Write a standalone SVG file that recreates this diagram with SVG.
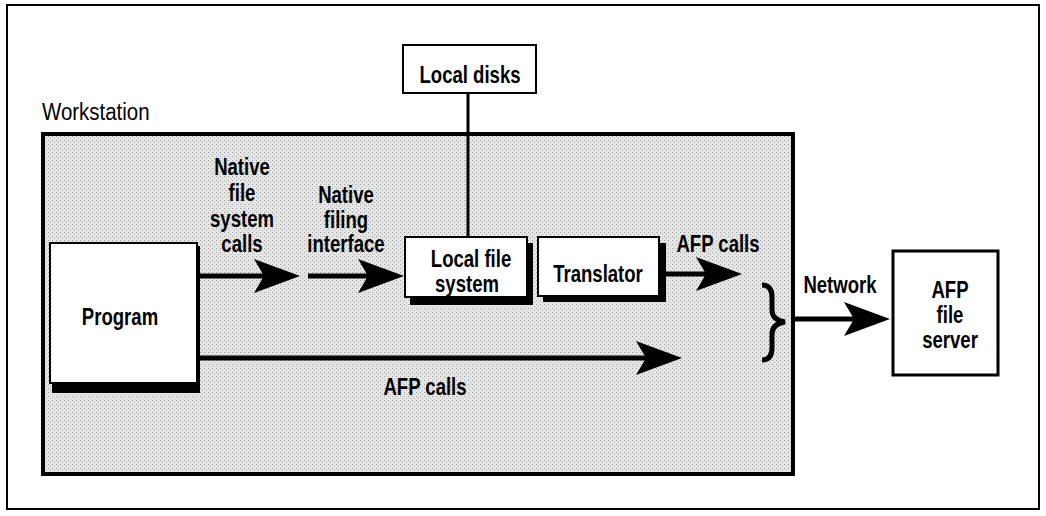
<svg xmlns="http://www.w3.org/2000/svg" width="1046" height="516" viewBox="0 0 1046 516">
<style>
.t{font-family:"Liberation Sans",Arial,sans-serif;font-weight:bold;font-size:23.5px;fill:#000;text-anchor:middle}
.box{fill:#fff;stroke:#000;stroke-width:2}
.shadow{fill:#000}
.conn{stroke:#000;stroke-width:5;fill:none}
</style>
<defs>
<pattern id="stip" width="4" height="4" patternUnits="userSpaceOnUse">
<rect width="4" height="4" fill="#e6e6e6"/>
<rect x="0" y="0" width="1" height="1" fill="#9a9a9a"/>
<rect x="2" y="2" width="1" height="1" fill="#b5b5b5"/>
</pattern>
<marker id="ah" markerUnits="userSpaceOnUse" markerWidth="50" markerHeight="40" viewBox="0 -20 50 40" refX="10" refY="0" orient="auto" overflow="visible">
<path d="M0,-17 L46,0 L0,17 L10,0 Z" fill="#000"/>
</marker>
</defs>
<rect x="0" y="0" width="1046" height="516" fill="#fff"/>
<rect x="7" y="5" width="1032" height="504" fill="none" stroke="#000" stroke-width="2"/>

<g id="workstation">
<rect x="43" y="134" width="750" height="340" fill="url(#stip)" stroke="#000" stroke-width="4"/>
<text transform="translate(42,120) scale(0.87,1)" style="font-family:'Liberation Sans',Arial,sans-serif;font-size:23.5px;fill:#000">Workstation</text>
</g>

<g id="connectors">
<line class="conn" x1="468" y1="93" x2="468" y2="237" style="stroke-width:3"/>
<line class="conn" x1="197" y1="276" x2="264" y2="276" marker-end="url(#ah)"/>
<line class="conn" x1="308" y1="276" x2="368" y2="276" marker-end="url(#ah)"/>
<line class="conn" x1="665" y1="274" x2="706" y2="274" marker-end="url(#ah)"/>
<line class="conn" x1="200" y1="358" x2="646" y2="358" marker-end="url(#ah)"/>
<line class="conn" x1="793" y1="319" x2="854" y2="319" marker-end="url(#ah)"/>
<path d="M762,285 Q772,285 772,297 L772,310 Q772,320 785,322 Q772,324 772,334 L772,348 Q772,360 762,360" fill="none" stroke="#000" stroke-width="5"/>
</g>

<g id="labels">
<text class="t" transform="translate(242,175) scale(0.79,1)">Native</text>
<text class="t" transform="translate(242,201) scale(0.79,1)">file</text>
<text class="t" transform="translate(242,227) scale(0.79,1)">system</text>
<text class="t" transform="translate(242,252) scale(0.79,1)">calls</text>
<text class="t" transform="translate(346,203) scale(0.79,1)">Native</text>
<text class="t" transform="translate(346,228) scale(0.79,1)">filing</text>
<text class="t" transform="translate(346,252) scale(0.79,1)">interface</text>
<text class="t" transform="translate(718,252) scale(0.79,1)">AFP calls</text>
<text class="t" transform="translate(425,395) scale(0.79,1)">AFP calls</text>
<text class="t" transform="translate(840,293) scale(0.79,1)">Network</text>
</g>

<g id="local-disks">
<rect class="box" x="403" y="45" width="133" height="48"/>
<text class="t" transform="translate(470,83) scale(0.79,1)">Local disks</text>
</g>

<g id="program">
<rect class="shadow" x="52" y="246" width="148" height="147"/>
<rect class="box" x="50" y="243" width="147" height="140"/>
<text class="t" transform="translate(120,325) scale(0.79,1)">Program</text>
</g>

<g id="local-file-system">
<rect class="shadow" x="410" y="243" width="123" height="62"/>
<rect class="box" x="405" y="237" width="122" height="60"/>
<text class="t" transform="translate(471,267) scale(0.79,1)">Local file</text>
<text class="t" transform="translate(467,292) scale(0.79,1)">system</text>
</g>

<g id="translator">
<rect class="shadow" x="543" y="243" width="123" height="59"/>
<rect class="box" x="538" y="237" width="121" height="59"/>
<text class="t" transform="translate(598,282) scale(0.79,1)">Translator</text>
</g>

<g id="afp-file-server">
<rect class="box" x="893" y="251" width="105" height="124" style="stroke-width:3"/>
<text class="t" transform="translate(950,298) scale(0.79,1)">AFP</text>
<text class="t" transform="translate(950,323) scale(0.79,1)">file</text>
<text class="t" transform="translate(950,348) scale(0.79,1)">server</text>
</g>
</svg>
